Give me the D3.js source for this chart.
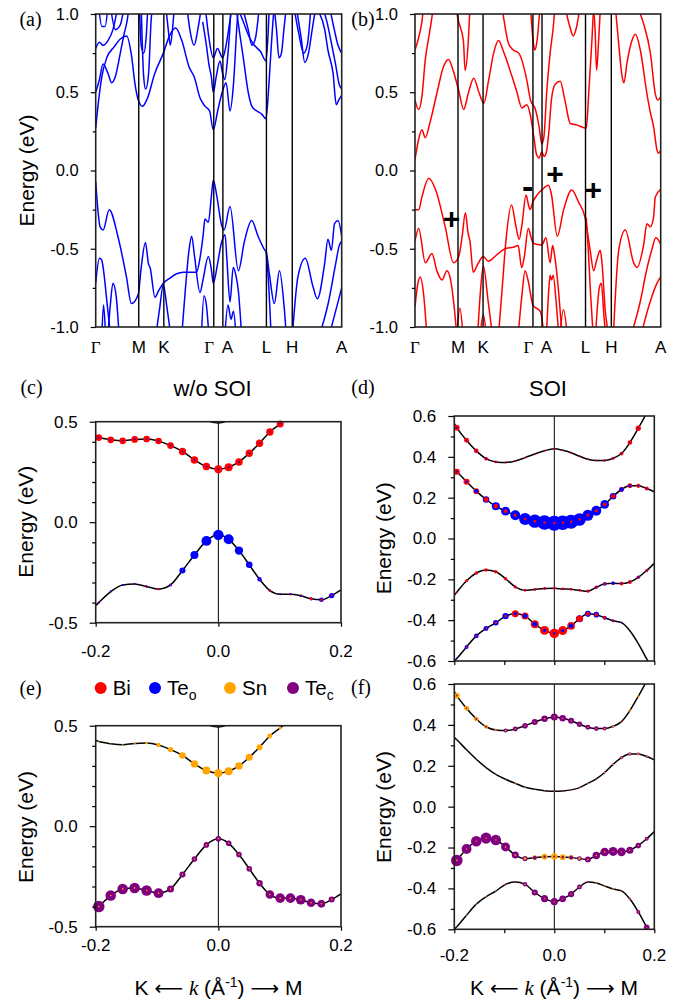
<!DOCTYPE html>
<html><head><meta charset="utf-8">
<script src="https://cdn.jsdelivr.net/npm/d3@7"></script>
<style>body{margin:0;background:#fff}svg{display:block}</style>
</head><body>
<svg id="fig" width="682" height="1001"></svg>
<script>
// ---------------- DATA ----------------
const kPts = [0, 17.5, 27.7, 48, 51.7, 69.4, 79.9, 100];
const kLabels = ["Γ","M","K","Γ","A","L","H","A"];
const yTicksAB = [-1, -0.5, 0, 0.5, 1];

const bandsA = [
 [[0,0.27],[1.2,0.45],[2.5,0.6],[4.5,0.72],[7.5,0.79],[10,0.84],[12.6,0.86],[14.5,0.74],[16,0.55],[17.3,0.45],[19,0.41],[21,0.46],[24,0.62],[27.5,0.75],[30,0.86],[32.5,0.91],[35,0.83],[38,0.66],[40,0.6],[42.5,0.46],[44.5,0.41],[46.3,0.38],[47.8,0.26],[49.7,0.39],[51.6,0.51],[53,0.56],[54.6,0.38],[56,0.55],[57.5,0.95],[58,1.05]],
 [[57,1.05],[58.5,0.88],[60,0.72],[62,0.5],[63.5,0.41],[65.5,0.38],[67.5,0.36],[69.2,0.33],[70.2,0.5],[71.2,0.75],[72.2,0.98],[72.7,1.06]],
 [[0,0.5],[1.5,0.58],[3,0.68],[5,0.62],[6.5,0.56],[8,0.6],[10,0.75],[11.5,0.87],[13,0.98],[13.5,1.05]],
 [[0,0.78],[1.5,0.82],[3,0.8],[5,0.83],[7,0.9],[9,1.05]],
 [[1.2,1.05],[2.5,0.92],[3.8,0.92],[5,1.05]],
 [[6,1.05],[8,0.9],[10,0.93],[11.5,1.05]],
 [[17.8,1.05],[18.5,0.8],[19.5,0.75],[20.5,0.85],[21.2,1.05]],
 [[18.5,1.05],[19.5,0.6],[20.3,0.52],[21.5,0.62],[22.5,0.95],[23,1.05]],
 [[28.5,1.05],[29.5,0.9],[30.3,0.8],[31.2,0.9],[32,1.05]],
 [[37,1.05],[38.5,0.88],[40,0.8],[41.5,0.9],[43,1.05]],
 [[43.5,0.95],[45,0.8],[46,0.68],[47,0.6],[47.8,0.5],[49,0.6],[50.5,0.7],[51.6,0.62],[52.5,0.58],[53.5,0.7],[54.5,0.9],[55,1.05]],
 [[44.5,1.05],[46,0.85],[47.8,0.72],[49.5,0.78],[51.6,0.72],[53,0.8],[54.5,0.95],[55.5,1.05]],
 [[57.5,1.05],[60,0.95],[62.5,0.85],[64.5,0.8],[67,0.76],[69.2,0.7],[70,0.85],[70.6,1.05]],
 [[59.5,1.05],[62,0.9],[63.5,0.8],[65,0.85],[66.5,1.05]],
 [[72.5,1.05],[73.5,0.9],[74.5,0.72],[75.5,0.75],[76.5,0.9],[77.5,1.05]],
 [[80.5,1.05],[82.5,0.88],[84.5,0.75],[86,0.8],[87.5,1.05]],
 [[81.5,1.05],[83.5,0.85],[85,0.69],[86.5,0.75],[88,0.9],[89.5,1.05]],
 [[90.4,1.02],[93.1,0.9],[94.4,0.77],[96.5,0.62],[97.8,0.42],[98.8,0.45],[100,0.48]],
 [[92,1.05],[94,0.95],[96,0.8],[97.5,0.68],[99,0.55],[100,0.52]],
 [[95,1.05],[97,0.9],[98.5,0.8],[100,0.75]],
 [[0,-0.07],[1.8,-0.36],[3,-0.38],[5.5,-0.25],[9,-0.42],[12.5,-0.68],[14.5,-0.85],[17.3,-0.79],[18.5,-0.62],[20.2,-0.46],[21.5,-0.6],[22.1,-0.62],[24.1,-0.81],[25.5,-0.77],[27.5,-0.72],[30,-0.69],[32.9,-0.66],[35.6,-0.65],[38,-0.65],[41,-0.65],[42.5,-0.55],[43.7,-0.41],[44.4,-0.31],[45.8,-0.33],[47,-0.17],[47.8,-0.06],[49.2,-0.16],[51.2,-0.35],[52.2,-0.38],[54.6,-0.23],[58,-0.64],[60.5,-0.45],[63.4,-0.32],[66,-0.42],[68.8,-0.51],[69.3,-0.52],[70.6,-0.66],[72.6,-0.85],[74.7,-0.64],[76.7,-0.89],[77.5,-1.05]],
 [[0,-0.72],[1.5,-0.56],[2.4,-0.57],[3.2,-0.64],[4.5,-0.83],[6,-1.05]],
 [[5,-1.05],[6,-0.85],[7,-0.72],[8.3,-0.8],[9.5,-1.05]],
 [[2.5,-1.05],[3.2,-0.86],[4,-1.05]],
 [[24.5,-1.05],[26,-0.88],[27.5,-0.73],[29,-0.88],[30.5,-1.05]],
 [[35,-1.05],[36.5,-0.75],[38,-0.5],[39,-0.42],[40.2,-0.55],[42.4,-0.78],[43.6,-0.7],[45.8,-0.55],[47,-0.63],[47.8,-0.72],[49.5,-0.6],[51,-0.47],[52.6,-0.41],[53.3,-0.56],[54.6,-0.84],[55.9,-0.62],[57,-0.67],[58,-0.77],[59.3,-1.05]],
 [[43,-1.05],[44,-0.8],[45,-0.86],[46,-1.05]],
 [[52.5,-1.05],[53.8,-0.86],[55,-0.95],[56,-0.9],[57,-1.05]],
 [[69.3,-0.52],[70.2,-0.7],[71.3,-1.05]],
 [[80.2,-1.0],[82.2,-0.68],[85.2,-0.56],[88.3,-0.74],[90.1,-0.82],[93.1,-0.59],[94.4,-0.44],[95.8,-0.51],[97.1,-0.34],[98.5,-0.32],[100,-0.42]],
 [[91,-1.05],[94.5,-0.85],[97.5,-0.6],[99,-0.48],[100,-0.45]],
 [[95,-1.05],[97.5,-0.9],[100,-0.75]]
];

const bandsB = [
 [[0,0.07],[1.5,0.2],[2.8,0.26],[4.2,0.21],[6,0.3],[9,0.5],[11.5,0.66],[13.7,0.71],[15.5,0.64],[17.8,0.51],[19.8,0.39],[21.8,0.5],[23.9,0.59],[26,0.5],[28,0.43],[30,0.58],[32,0.75],[34,0.83],[36,0.76],[39.5,0.6],[41.5,0.5],[43.5,0.4],[45.5,0.42],[47,0.35],[48.5,0.2],[49.5,0.1],[50.5,0.08],[51.6,0.12],[52.5,0.09],[53.5,0.12],[54.5,0.25],[55.5,0.45],[57,0.55],[59.1,0.57],[61,0.45],[63.2,0.3],[66,0.29],[69.7,0.27],[70.7,0.49],[72,0.83],[72.7,1.05]],
 [[0,0.45],[1.5,0.39],[2.8,0.47],[4.2,0.71],[5.6,0.85],[6.9,0.98],[7.5,1.05]],
 [[0,0.77],[1.5,0.85],[2.8,0.95],[3.5,1.05]],
 [[16.5,1.05],[17.6,0.96],[19.7,0.83],[20.4,0.64],[21.7,0.83],[22.4,1.05]],
 [[35.4,1.05],[38.1,0.81],[40,0.77],[42.2,0.75],[45.6,0.57],[47,0.45],[49,0.39],[50.5,0.28],[51.6,0.17],[52.5,0.22],[53.6,0.5],[55,0.75],[56.3,0.92],[57,1.05]],
 [[47,1.05],[48.2,0.81],[48.8,0.77],[49.5,0.81],[50.9,1.05]],
 [[61,1.05],[63,0.92],[64.4,0.86],[65.8,0.92],[67.2,1.05]],
 [[72.5,1.05],[73.3,0.9],[73.9,0.64],[74.8,0.85],[75.5,1.05]],
 [[81.5,1.05],[82.9,0.81],[84.3,0.6],[85,0.56],[86.3,0.69],[88.3,0.83],[89.7,0.87],[91.7,0.77],[94.4,0.49],[95.8,0.37],[97.1,0.28],[98.5,0.13],[99.2,0.11],[100,0.13]],
 [[90.4,1.05],[93,0.94],[95.8,0.75],[97.8,0.49],[98.8,0.45],[100,0.47]],
 [[0,-0.25],[1.5,-0.25],[2.8,-0.17],[5.6,-0.05],[8.3,-0.12],[12.3,-0.36],[15.7,-0.59],[17.8,-0.55],[19.2,-0.42],[20.5,-0.27],[21.6,-0.4],[22.4,-0.455],[23.7,-0.65],[25.5,-0.6],[27.8,-0.55],[29.8,-0.58],[33.2,-0.54],[36.6,-0.5],[40,-0.49],[42,-0.48],[43.4,-0.62],[44.5,-0.55],[46.1,-0.37],[47.3,-0.43],[48.1,-0.465],[51.6,-0.476],[53.3,-0.43],[55,-0.59],[56,-0.48],[56.8,-0.54],[59,-0.88],[59.8,-1.05]],
 [[34,-1.05],[35.5,-0.75],[37,-0.45],[39.3,-0.22],[41,-0.35],[42.4,-0.44],[43.5,-0.35],[45.2,-0.157],[46.2,-0.22],[46.8,-0.25],[48,-0.2],[50,-0.15],[51.6,-0.125],[54.3,-0.095],[55.5,-0.15],[57.9,-0.42],[60.5,-0.25],[63.8,-0.125],[66.5,-0.2],[69.2,-0.3],[71.3,-0.51],[72.7,-0.64],[74,-0.57],[75.4,-0.51],[76.1,-0.59],[77.4,-0.89],[78.8,-1.05]],
 [[0,-0.45],[1.5,-0.37],[4.2,-0.59],[6.9,-0.53],[8.9,-0.64],[11,-0.7],[13,-0.64],[14.5,-0.7],[16,-0.88],[17,-1.05]],
 [[0,-0.87],[1.2,-0.72],[2.1,-0.68],[3.5,-0.79],[4.8,-1.05]],
 [[17,-1.05],[18.3,-0.88],[19.5,-1.05]],
 [[25.5,-1.05],[26.5,-0.8],[27.8,-0.61],[29.8,-0.84],[31.5,-1.05]],
 [[26.5,-1.05],[27.8,-0.92],[29,-1.05]],
 [[42,-1.05],[43.5,-0.8],[44.8,-0.64],[46,-0.7],[48,-0.86],[51,-0.9],[52.5,-1.05]],
 [[53.5,-1.05],[54.5,-0.75],[55,-0.67],[55.6,-0.7],[56.2,-0.67],[57.5,-0.85],[58.5,-1.05]],
 [[59,-1.05],[60.4,-0.89],[62,-1.05]],
 [[69.7,-0.3],[70.5,-0.5],[71.5,-0.8],[72.5,-1.05]],
 [[73.5,-1.05],[75,-0.75],[75.8,-0.72],[77,-0.95],[77.6,-1.05]],
 [[80.9,-1.0],[82.9,-0.51],[85.6,-0.38],[89,-0.59],[90.4,-0.62],[93.1,-0.47],[94.4,-0.34],[95.8,-0.36],[97.1,-0.3],[97.8,-0.17],[100,-0.12]],
 [[88,-1.05],[91.5,-0.85],[94.5,-0.62],[96.5,-0.5],[98,-0.43],[100,-0.47]],
 [[92,-1.05],[95.5,-0.85],[98.5,-0.72],[100,-0.68]]
];

const paritySigns = [["+",14.9,-0.305],["-",45.9,-0.10],["+",57,-0.02],["+",72.6,-0.12]];

// fat-band panels: k grid (first/last are line ends, the rest carry dots)
const kLine = [-0.2,-0.195,-0.1755,-0.156,-0.1365,-0.117,-0.0975,-0.078,-0.0585,-0.039,-0.0195,0,0.0168,0.0336,0.0504,0.0672,0.084,0.1008,0.1176,0.1344,0.1512,0.168,0.1848,0.2];

const eNoSoiC2 = [1.5,1.4,1.3,1.2,1.1,1.0,0.9,0.8,0.7,0.6,0.51,0.493,0.51,0.6,0.7,0.8,0.9,1.0,1.1,1.2,1.3,1.4,1.5,1.55];
const eNoSoiC1 = [0.426,0.421,0.41,0.405,0.412,0.414,0.404,0.381,0.352,0.31,0.277,0.264,0.274,0.30,0.343,0.393,0.449,0.489,0.53,0.575,0.62,0.665,0.71,0.75];
const eNoSoiV1 = [-0.415,-0.40,-0.345,-0.312,-0.307,-0.32,-0.333,-0.312,-0.24,-0.163,-0.093,-0.063,-0.085,-0.141,-0.212,-0.284,-0.34,-0.358,-0.358,-0.366,-0.381,-0.386,-0.365,-0.337];

const eSoi1 = [0.563,0.543,0.481,0.429,0.391,0.375,0.372,0.38,0.396,0.414,0.43,0.439,0.432,0.42,0.403,0.388,0.382,0.382,0.393,0.416,0.47,0.54,0.615,0.69];
const eSoi2 = [0.338,0.327,0.278,0.232,0.191,0.158,0.134,0.114,0.095,0.085,0.078,0.075,0.077,0.082,0.093,0.114,0.136,0.167,0.207,0.24,0.258,0.258,0.245,0.229];
const eSoi3 = [-0.278,-0.263,-0.207,-0.169,-0.154,-0.163,-0.197,-0.237,-0.254,-0.25,-0.245,-0.244,-0.247,-0.249,-0.254,-0.258,-0.239,-0.222,-0.219,-0.221,-0.213,-0.19,-0.157,-0.122];
const eSoi4 = [-0.601,-0.588,-0.531,-0.477,-0.441,-0.413,-0.38,-0.369,-0.38,-0.42,-0.45,-0.465,-0.451,-0.428,-0.393,-0.369,-0.373,-0.388,-0.403,-0.412,-0.452,-0.515,-0.59,-0.66];

// projections (one value per dot)
const wC_C1_Bi  = [0.42,0.42,0.42,0.42,0.42,0.41,0.42,0.46,0.47,0.47,0.5,0.5,0.47,0.46,0.46,0.46,0.44,0.44,0.44,0.44,0.44,0.44];
const wC_C1_Teo = [0.1,0.1,0.1,0.1,0.1,0.1,0.1,0.1,0.1,0.1,0.1,0.1,0.1,0.1,0.1,0.1,0.1,0.1,0.1,0.1,0.1,0.1];
const wC_V1_Bi  = [0.14,0.13,0.12,0.15,0.16,0.13,0.1,0.08,0.06,0.05,0.05,0.05,0.06,0.08,0.1,0.14,0.14,0.15,0.17,0.18,0.15,0.12];
const wC_V1_Teo = [0.12,0.12,0.12,0.12,0.12,0.14,0.19,0.38,0.5,0.62,0.65,0.62,0.52,0.41,0.28,0.15,0.12,0.12,0.14,0.2,0.29,0.33];

const wD_1_Bi  = [0.35,0.31,0.29,0.23,0.17,0.13,0.12,0.12,0.12,0.12,0.12,0.12,0.12,0.12,0.12,0.13,0.15,0.19,0.24,0.29,0.33,0.35];
const wD_1_Teo = [0.1,0.1,0.1,0.1,0.08,0.07,0.06,0.06,0.06,0.06,0.06,0.06,0.06,0.06,0.06,0.07,0.08,0.1,0.1,0.1,0.1,0.1];
const wD_2_Bi  = [0.38,0.38,0.37,0.31,0.28,0.24,0.2,0.18,0.17,0.16,0.16,0.16,0.16,0.17,0.18,0.2,0.24,0.28,0.31,0.31,0.27,0.25];
const wD_2_Teo = [0.12,0.16,0.26,0.41,0.5,0.56,0.62,0.75,0.84,0.91,0.94,0.91,0.88,0.79,0.69,0.62,0.54,0.41,0.28,0.19,0.12,0.1];
const wD_3_Bi  = [0.12,0.2,0.22,0.22,0.22,0.22,0.2,0.18,0.18,0.18,0.18,0.18,0.18,0.18,0.2,0.22,0.16,0.22,0.24,0.24,0.22,0.2];
const wD_3_Teo = [0.05,0.06,0.06,0.06,0.06,0.06,0.08,0.08,0.08,0.08,0.08,0.08,0.08,0.08,0.08,0.12,0.24,0.2,0.1,0.1,0.14,0.1];
const wD_4_Bi  = [0.06,0.12,0.14,0.14,0.16,0.18,0.44,0.44,0.5,0.56,0.6,0.56,0.48,0.41,0.25,0.22,0.18,0.19,0.1,0.08,0.06,0.06];
const wD_4_Teo = [0.12,0.25,0.29,0.31,0.35,0.4,0.22,0.31,0.31,0.19,0.15,0.19,0.31,0.44,0.38,0.35,0.25,0.12,0.1,0.08,0.06,0.06];

const wE_C1_Sn  = [0.08,0.08,0.1,0.12,0.16,0.27,0.33,0.41,0.46,0.5,0.52,0.5,0.47,0.44,0.37,0.31,0.19,0.15,0.12,0.1,0.1,0.1];
const wE_C1_Tec = [0.03,0.03,0.03,0.03,0.03,0.03,0.03,0.03,0.03,0.03,0.03,0.03,0.03,0.03,0.03,0.03,0.03,0.03,0.03,0.03,0.03,0.03];
const wE_V1_Sn  = [0.1,0.1,0.1,0.1,0.1,0.1,0.1,0.1,0.1,0.1,0.1,0.1,0.1,0.1,0.1,0.1,0.1,0.1,0.1,0.1,0.1,0.1];
const wE_V1_Tec = [0.72,0.66,0.66,0.66,0.66,0.62,0.44,0.38,0.35,0.35,0.35,0.35,0.35,0.35,0.4,0.54,0.6,0.6,0.6,0.54,0.48,0.38];

const wF_1_Sn  = [0.35,0.31,0.29,0.25,0.12,0.1,0.08,0.08,0.08,0.08,0.08,0.08,0.08,0.08,0.08,0.08,0.1,0.12,0.13,0.16,0.14,0.12];
const wF_1_Tec = [0.1,0.1,0.12,0.12,0.16,0.25,0.31,0.35,0.38,0.41,0.44,0.41,0.38,0.34,0.31,0.29,0.25,0.17,0.1,0.08,0.06,0.06];
const wF_2_Sn  = [0.05,0.05,0.05,0.06,0.08,0.1,0.1,0.1,0.08,0.06,0.05,0.06,0.08,0.1,0.1,0.1,0.1,0.1,0.1,0.12,0.12,0.1];
const wF_2_Tec = [0.05,0.05,0.05,0.06,0.08,0.08,0.06,0.06,0.08,0.1,0.12,0.12,0.1,0.08,0.08,0.1,0.12,0.14,0.2,0.22,0.18,0.15];
const wF_3_Sn  = [0.1,0.08,0.08,0.08,0.08,0.1,0.12,0.18,0.3,0.37,0.4,0.37,0.31,0.15,0.1,0.1,0.1,0.08,0.08,0.08,0.08,0.08];
const wF_3_Tec = [0.72,0.62,0.66,0.69,0.66,0.56,0.44,0.32,0.25,0.15,0.12,0.15,0.25,0.3,0.37,0.47,0.54,0.56,0.54,0.44,0.35,0.25];
const wF_4_Sn  = [0.05,0.08,0.1,0.1,0.1,0.12,0.12,0.1,0.08,0.08,0.08,0.08,0.08,0.1,0.12,0.12,0.12,0.12,0.1,0.1,0.08,0.06];
const wF_4_Tec = [0.05,0.06,0.06,0.06,0.08,0.1,0.12,0.28,0.38,0.44,0.45,0.42,0.38,0.3,0.12,0.08,0.08,0.08,0.1,0.15,0.25,0.35];

const speciesNames = ["Bi","Te","Sn","Te"];
const speciesSubs  = ["","o","","c"];
const speciesColors = ["#ff0000","#0000ff","#ffa500","#800080"];

// ---------------- DRAWING ----------------
const SANS = "'Liberation Sans', Arial, Helvetica, sans-serif";
const SERIF = "'Liberation Serif', 'Times New Roman', serif";
const svg = d3.select("#fig");
const fmt = v => (v < 0 ? "-" : "") + Math.abs(v).toFixed(1);

function styleAxis(g, fs) {
  g.select(".domain").remove();
  g.selectAll(".tick line").attr("stroke", "#000").attr("stroke-width", 1.2);
  g.selectAll(".tick text").attr("fill", "#000").style("font-family", SANS).style("font-size", fs + "px");
}
function panelLabel(txt, x, y) {
  svg.append("text").attr("x", x).attr("y", y).attr("text-anchor", "middle")
    .attr("dominant-baseline", "central").style("font-family", SERIF).style("font-size", "20px").text(txt);
}
function energyLabel(x, y) {
  svg.append("text").attr("transform", `translate(${x},${y}) rotate(-90)`).attr("text-anchor", "middle")
    .attr("dominant-baseline", "central").style("font-family", SANS).style("font-size", "21px").text("Energy (eV)");
}

function drawBandPanel(id, x0, x1, bands, color, signs) {
  const yb = 327, yt = 14;
  const kx = d3.scaleLinear().domain([0, 100]).range([x0, x1]);
  const ey = d3.scaleLinear().domain([-1, 1]).range([yb, yt]);
  svg.append("clipPath").attr("id", "clip" + id).append("rect")
    .attr("x", x0).attr("y", yt).attr("width", x1 - x0).attr("height", yb - yt);
  const line = d3.line().x(d => kx(d[0])).y(d => ey(d[1])).curve(d3.curveMonotoneX);
  svg.append("g").attr("clip-path", `url(#clip${id})`).selectAll("path").data(bands).join("path")
    .attr("d", line).attr("fill", "none").attr("stroke", color).attr("stroke-width", 1.5);
  svg.append("g").selectAll("line").data(kPts.slice(1, -1)).join("line")
    .attr("x1", d => kx(d)).attr("x2", d => kx(d)).attr("y1", yb).attr("y2", yt)
    .attr("stroke", "#000").attr("stroke-width", 1.4);
  svg.append("rect").attr("x", x0).attr("y", yt).attr("width", x1 - x0).attr("height", yb - yt)
    .attr("fill", "none").attr("stroke", "#222").attr("stroke-width", 1.6);
  const ga = svg.append("g").attr("transform", `translate(${x0},0)`)
    .call(d3.axisLeft(ey).tickValues(yTicksAB).tickFormat(fmt).tickSize(5).tickPadding(12));
  styleAxis(ga, 16.5);
  const gm = svg.append("g").attr("transform", `translate(${x0},0)`)
    .call(d3.axisLeft(ey).tickValues([-0.75, -0.25, 0.25, 0.75]).tickFormat("").tickSize(3));
  styleAxis(gm, 16);
  kPts.forEach((k, i) => {
    let x = kx(k);
    if (i === 3) x -= 4.5;
    if (i === 4) x += 4.5;
    svg.append("text").attr("x", x).attr("y", 347).attr("text-anchor", "middle").attr("dominant-baseline", "central")
      .style("font-family", kLabels[i] === "Γ" ? SERIF : SANS).style("font-size", "17px").text(kLabels[i]);
  });
  if (signs) {
    svg.append("g").selectAll("text").data(signs).join("text")
      .attr("x", d => kx(d[1])).attr("y", d => ey(d[2])).attr("text-anchor", "middle").attr("dominant-baseline", "central")
      .style("font-family", SANS).style("font-weight", "bold").style("font-size", d => d[0] === "-" ? "34px" : "30px")
      .text(d => d[0]);
  }
}

drawBandPanel("a", 95.7, 341.7, bandsA, "#0000ff", null);
drawBandPanel("b", 415, 660.7, bandsB, "#ff0000", paritySigns);
panelLabel("(a)", 30.5, 19);
panelLabel("(b)", 363, 19);
energyLabel(26, 170.5);

const rScale = d3.scaleLinear().domain([0, 1]).range([0, 8]);

function drawFatPanel(cfg) {
  const { id, x0, x1, yb, yt, dom, bands, cols, yMajor, yMinor, xMinor, xLabels, xLabelY } = cfg;
  const kx = d3.scaleLinear().domain([-0.2, 0.2]).range([x0, x1]);
  const ey = d3.scaleLinear().domain(dom).range([yb, yt]);
  svg.append("clipPath").attr("id", "clip" + id).append("rect")
    .attr("x", x0).attr("y", yt).attr("width", x1 - x0).attr("height", yb - yt);
  svg.append("line").attr("x1", kx(0)).attr("x2", kx(0)).attr("y1", yb).attr("y2", yt)
    .attr("stroke", "#000").attr("stroke-width", 1);
  const line = d3.line().x(d => kx(d[0])).y(d => ey(d[1])).curve(d3.curveMonotoneX);
  const lg = svg.append("g").attr("clip-path", `url(#clip${id})`);
  bands.forEach(b => {
    lg.append("path").datum(kLine.map((k, i) => [k, b.E[i]])).attr("d", line)
      .attr("fill", "none").attr("stroke", "#000").attr("stroke-width", 1.5);
  });
  const dg = svg.append("g");
  bands.forEach(b => {
    if (!b.w) return;
    kLine.slice(1, -1).forEach((k, j) => {
      const E = b.E[j + 1];
      if (E > dom[1] || E < dom[0]) return;
      const items = b.w.map((arr, s) => ({ r: rScale(arr[j]), c: cols[s] })).sort((a, c) => c.r - a.r);
      items.forEach(it => {
        if (it.r < 0.3) return;
        dg.append("circle").attr("cx", kx(k)).attr("cy", ey(E)).attr("r", it.r).attr("fill", it.c);
      });
    });
  });
  svg.append("rect").attr("x", x0).attr("y", yt).attr("width", x1 - x0).attr("height", yb - yt)
    .attr("fill", "none").attr("stroke", "#222").attr("stroke-width", 1.6);
  const ga = svg.append("g").attr("transform", `translate(${x0},0)`)
    .call(d3.axisLeft(ey).tickValues(yMajor).tickFormat(fmt).tickSize(6).tickPadding(12));
  styleAxis(ga, 17);
  const gm = svg.append("g").attr("transform", `translate(${x0},0)`)
    .call(d3.axisLeft(ey).tickValues(yMinor).tickFormat("").tickSize(3.5));
  styleAxis(gm, 17);
  const gx = svg.append("g").attr("transform", `translate(0,${yb})`)
    .call(d3.axisBottom(kx).tickValues(xMinor).tickFormat("").tickSize(4));
  styleAxis(gx, 17);
  if (xLabels) {
    svg.append("g").selectAll("text").data(xLabels).join("text")
      .attr("x", d => kx(d)).attr("y", xLabelY).attr("text-anchor", "middle").attr("dominant-baseline", "central")
      .style("font-family", SANS).style("font-size", "17px").text(d => fmt(d));
  }
}

const minorCE = [-0.4, -0.3, -0.2, -0.1, 0.1, 0.2, 0.3, 0.4];
const minorDF = [-0.5, -0.3, -0.1, 0.1, 0.3, 0.5];

drawFatPanel({ id: "c", x0: 95.7, x1: 341, yb: 622.7, yt: 421.7, dom: [-0.5, 0.5],
  bands: [{ E: eNoSoiC2 }, { E: eNoSoiC1, w: [wC_C1_Bi, wC_C1_Teo] }, { E: eNoSoiV1, w: [wC_V1_Bi, wC_V1_Teo] }],
  cols: [speciesColors[0], speciesColors[1]], yMajor: [-0.5, 0, 0.5], yMinor: minorCE, xMinor: [-0.2, 0, 0.2],
  xLabels: [-0.2, 0, 0.2], xLabelY: 651.7 });
drawFatPanel({ id: "d", x0: 454.3, x1: 654.3, yb: 661, yt: 416, dom: [-0.6, 0.6],
  bands: [{ E: eSoi1, w: [wD_1_Bi, wD_1_Teo] }, { E: eSoi2, w: [wD_2_Bi, wD_2_Teo] }, { E: eSoi3, w: [wD_3_Bi, wD_3_Teo] }, { E: eSoi4, w: [wD_4_Bi, wD_4_Teo] }],
  cols: [speciesColors[0], speciesColors[1]], yMajor: [-0.6, -0.4, -0.2, 0, 0.2, 0.4, 0.6], yMinor: minorDF, xMinor: [-0.2, -0.1, 0, 0.1, 0.2],
  xLabels: null });
drawFatPanel({ id: "e", x0: 95.7, x1: 341, yb: 926.7, yt: 725.7, dom: [-0.5, 0.5],
  bands: [{ E: eNoSoiC2 }, { E: eNoSoiC1, w: [wE_C1_Sn, wE_C1_Tec] }, { E: eNoSoiV1, w: [wE_V1_Sn, wE_V1_Tec] }],
  cols: [speciesColors[2], speciesColors[3]], yMajor: [-0.5, 0, 0.5], yMinor: minorCE, xMinor: [-0.2, 0, 0.2],
  xLabels: [-0.2, 0, 0.2], xLabelY: 945.5 });
drawFatPanel({ id: "f", x0: 454.3, x1: 654.3, yb: 929.3, yt: 684, dom: [-0.6, 0.6],
  bands: [{ E: eSoi1, w: [wF_1_Sn, wF_1_Tec] }, { E: eSoi2, w: [wF_2_Sn, wF_2_Tec] }, { E: eSoi3, w: [wF_3_Sn, wF_3_Tec] }, { E: eSoi4, w: [wF_4_Sn, wF_4_Tec] }],
  cols: [speciesColors[2], speciesColors[3]], yMajor: [-0.6, -0.4, -0.2, 0, 0.2, 0.4, 0.6], yMinor: minorDF, xMinor: [-0.2, -0.1, 0, 0.1, 0.2],
  xLabels: [-0.2, 0, 0.2], xLabelY: 955.5 });

panelLabel("(c)", 31.5, 387); panelLabel("(d)", 363, 387);
panelLabel("(e)", 30.5, 688); panelLabel("(f)", 361, 687);
svg.append("text").attr("x", 212.5).attr("y", 388).attr("text-anchor", "middle").attr("dominant-baseline", "central")
  .style("font-family", SANS).style("font-size", "22px").text("w/o SOI");
svg.append("text").attr("x", 548).attr("y", 388).attr("text-anchor", "middle").attr("dominant-baseline", "central")
  .style("font-family", SANS).style("font-size", "22px").text("SOI");
energyLabel(25, 521.7); energyLabel(383.3, 538.3); energyLabel(25, 827); energyLabel(383.3, 807);

const legX = [100.7, 155, 230, 293];
speciesNames.forEach((n, i) => {
  svg.append("circle").attr("cx", legX[i]).attr("cy", 688).attr("r", 6).attr("fill", speciesColors[i]);
  const t = svg.append("text").attr("x", legX[i] + 12).attr("y", 695).style("font-family", SANS).style("font-size", "20.5px");
  t.append("tspan").text(n);
  if (speciesSubs[i]) t.append("tspan").attr("dy", 5).style("font-size", "14px").text(speciesSubs[i]);
});

function kTitle(cx) {
  const t = svg.append("text").attr("x", cx).attr("y", 995).attr("text-anchor", "middle")
    .style("font-family", SANS).style("font-size", "21px");
  t.append("tspan").text("K ");
  t.append("tspan").style("font-family", "'DejaVu Sans'").style("font-size", "20px").text("⟵");
  t.append("tspan").text(" ");
  t.append("tspan").style("font-family", SERIF).style("font-style", "italic").text("k");
  t.append("tspan").text(" (Å");
  t.append("tspan").attr("dy", -8).style("font-size", "14px").text("-1");
  t.append("tspan").attr("dy", 8).text(") ");
  t.append("tspan").style("font-family", "'DejaVu Sans'").style("font-size", "20px").text("⟶");
  t.append("tspan").text(" M");
}
kTitle(218.5); kTitle(554);
</script>
</body></html>
